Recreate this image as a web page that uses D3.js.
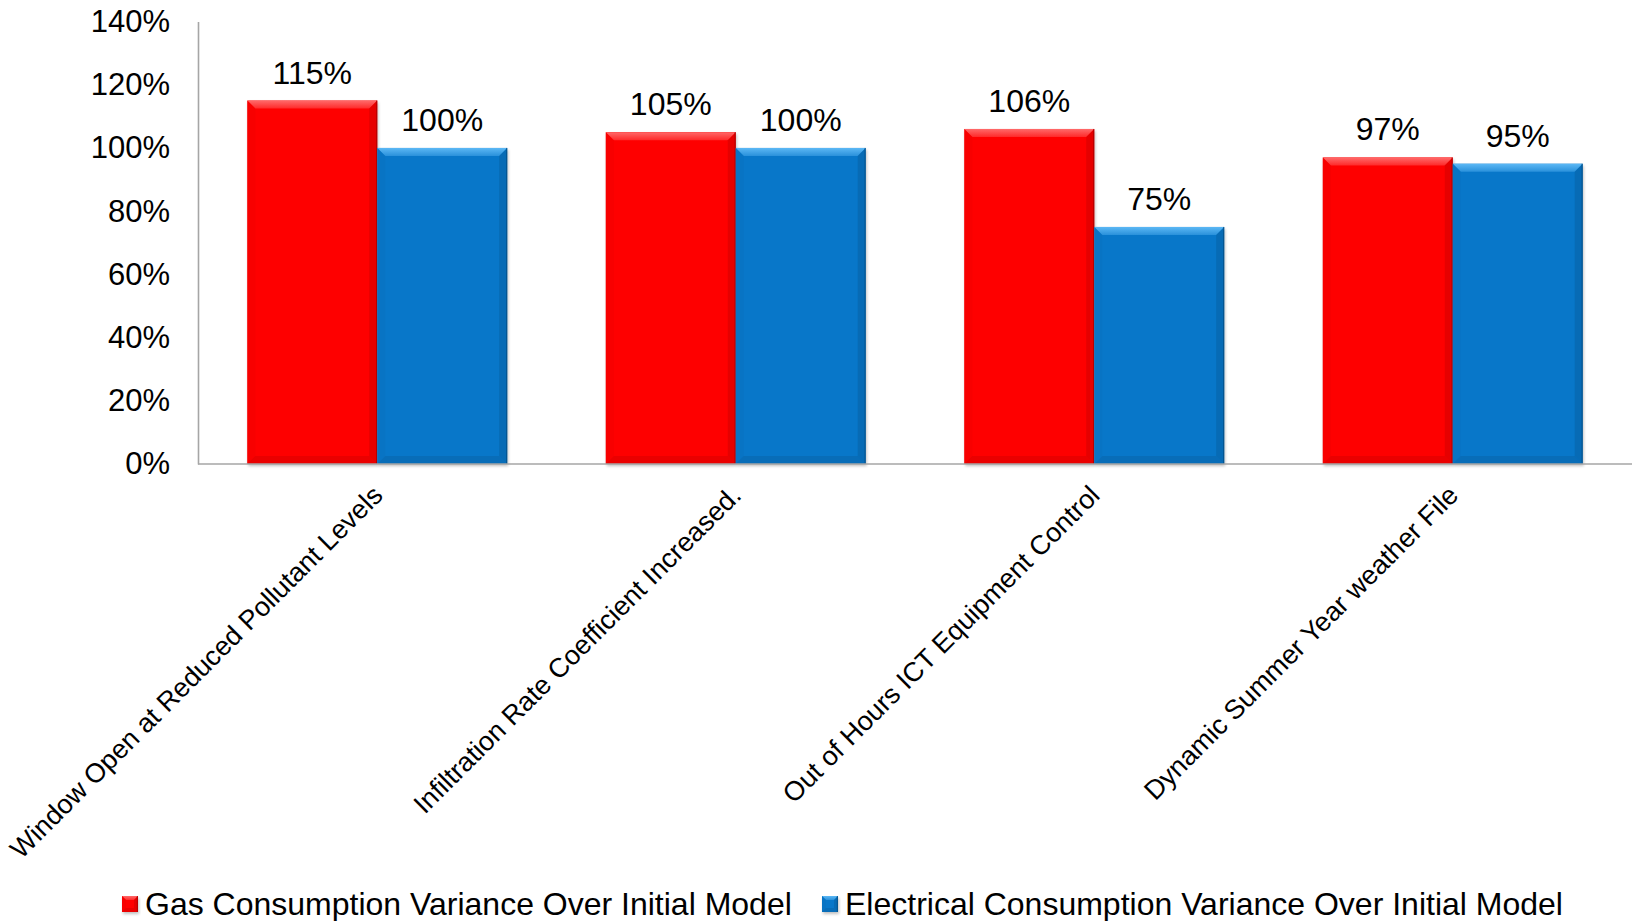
<!DOCTYPE html>
<html>
<head>
<meta charset="utf-8">
<script src="https://cdn.jsdelivr.net/npm/d3@7"></script>
<style>
  html, body { margin: 0; padding: 0; background: #fff; }
  svg { display: block; font-family: "Liberation Sans", Arial, sans-serif; }
</style>
</head>
<body>
<svg id="chart" width="1632" height="921"></svg>
<script>
// Scenario categories and the two series (fraction of the initial model)
const categories = [
  "Window Open at Reduced Pollutant Levels",
  "Infiltration Rate Coefficient Increased.",
  "Out of Hours ICT Equipment Control",
  "Dynamic Summer Year weather File"
];
const seriesNames = [
  "Gas Consumption Variance Over Initial Model",
  "Electrical Consumption Variance Over Initial Model"
];
const gasValues = [1.15, 1.05, 1.06, 0.97];
const electricalValues = [1.00, 1.00, 0.75, 0.95];
const yTicks = [0, 0.2, 0.4, 0.6, 0.8, 1.0, 1.2, 1.4];

const seriesColors = ["#fe0000", "#0877c9"];
const seriesValues = [gasValues, electricalValues];

const svg = d3.select("#chart");
const plotLeft = 198, plotRight = 1632, plotTop = 21.5, plotBase = 464;

const x = d3.scaleBand().domain(categories).range([plotLeft, plotRight])
  .paddingInner(0.275).paddingOuter(0.1375);
const xs = d3.scaleBand().domain(seriesNames).range([0, x.bandwidth()]).padding(0);
const y = d3.scaleLinear().domain([0, 1.4]).range([plotBase, plotTop]);

const defs = svg.append("defs");
function shade(c, k) { return d3.color(c)[k > 0 ? "brighter" : "darker"](Math.abs(k)).formatHex(); }
const topLight = ["#ff6a6a", "#5cb8f5"];
seriesColors.forEach((c, i) => {
  const gt = defs.append("linearGradient").attr("id", "topEdge" + i)
    .attr("x1", 0).attr("y1", 0).attr("x2", 0).attr("y2", 1);
  gt.append("stop").attr("offset", 0).attr("stop-color", topLight[i]);
  gt.append("stop").attr("offset", 1).attr("stop-color", d3.interpolateRgb(topLight[i], c)(0.6));
});
const blur = defs.append("filter").attr("id", "soft").attr("x", "-10%").attr("y", "-10%")
  .attr("width", "120%").attr("height", "130%");
blur.append("feGaussianBlur").attr("stdDeviation", 1.5);

// Bevelled bar: body, lit top edge, shaded sides and bottom
function bevelBar(g, bx, by, bw, bh, color, idx, b) {
  g.append("rect").attr("x", bx + 1).attr("y", by + 2).attr("width", bw).attr("height", bh)
    .attr("fill", "#000").attr("opacity", 0.25).attr("filter", "url(#soft)");
  g.append("rect").attr("x", bx).attr("y", by).attr("width", bw).attr("height", bh).attr("fill", color);
  const pts = a => a.map(p => p.join(",")).join(" ");
  g.append("polygon").attr("points", pts([[bx, by], [bx + bw, by], [bx + bw - b, by + b], [bx + b, by + b]]))
    .attr("fill", `url(#topEdge${idx})`);
  g.append("polygon").attr("points", pts([[bx, by], [bx + b, by + b], [bx + b, by + bh - b], [bx, by + bh]]))
    .attr("fill", shade(color, -0.15)).attr("opacity", 0.5);
  g.append("polygon").attr("points", pts([[bx + bw, by], [bx + bw - b, by + b], [bx + bw - b, by + bh - b], [bx + bw, by + bh]]))
    .attr("fill", shade(color, -0.6)).attr("opacity", 0.5);
  g.append("polygon").attr("points", pts([[bx, by + bh], [bx + b, by + bh - b], [bx + bw - b, by + bh - b], [bx + bw, by + bh]]))
    .attr("fill", shade(color, -0.5)).attr("opacity", 0.5);
  g.append("rect").attr("x", bx + bw - 1.2).attr("y", by).attr("width", 1.2).attr("height", bh)
    .attr("fill", shade(color, -1.4)).attr("opacity", 0.6);
}

// Y axis
const yAxis = d3.axisLeft(y).tickValues(yTicks).tickSize(0).tickPadding(28)
  .tickFormat(d3.format(".0%"));
const ya = svg.append("g").attr("transform", `translate(${plotLeft},0)`).call(yAxis);
ya.select(".domain").attr("stroke", "#a6a6a6").attr("stroke-width", 1.6);
ya.selectAll("text").attr("font-size", 31).attr("fill", "#000")
  .attr("font-family", "'Liberation Sans', Arial, sans-serif");

// Bars
const barsG = svg.append("g");
categories.forEach((cat, ci) => {
  seriesNames.forEach((s, si) => {
    const v = seriesValues[si][ci];
    const bx = x(cat) + xs(s), bw = xs.bandwidth();
    bevelBar(barsG, bx, y(v), bw, y(0) - y(v), seriesColors[si], si, 8);
  });
});

// Baseline
svg.append("line").attr("x1", plotLeft).attr("x2", plotRight).attr("y1", plotBase).attr("y2", plotBase)
  .attr("stroke", "#a6a6a6").attr("stroke-width", 1.6);

// Value labels
const lab = svg.append("g").attr("font-size", 32).attr("text-anchor", "middle").attr("fill", "#000");
categories.forEach((cat, ci) => {
  seriesNames.forEach((s, si) => {
    const v = seriesValues[si][ci];
    lab.append("text").attr("x", x(cat) + xs(s) + xs.bandwidth() / 2).attr("y", y(v) - 17)
      .text(d3.format(".0%")(v));
  });
});

// Category labels, rotated
const xl = svg.append("g").attr("font-size", 27).attr("text-anchor", "end").attr("fill", "#000");
categories.forEach(cat => {
  const cx = x(cat) + x.bandwidth() / 2 + 7, cy = plotBase + 33;
  xl.append("text").attr("transform", `translate(${cx},${cy}) rotate(-45)`).text(cat);
});

// Legend
const leg = svg.append("g").attr("font-size", 32).attr("fill", "#000");
const legendX = [122, 822];
seriesNames.forEach((s, si) => {
  bevelBar(leg, legendX[si], 896, 16, 16, seriesColors[si], si, 4);
  leg.append("text").attr("x", legendX[si] + 23).attr("y", 915).text(s);
});
</script>
</body>
</html>
